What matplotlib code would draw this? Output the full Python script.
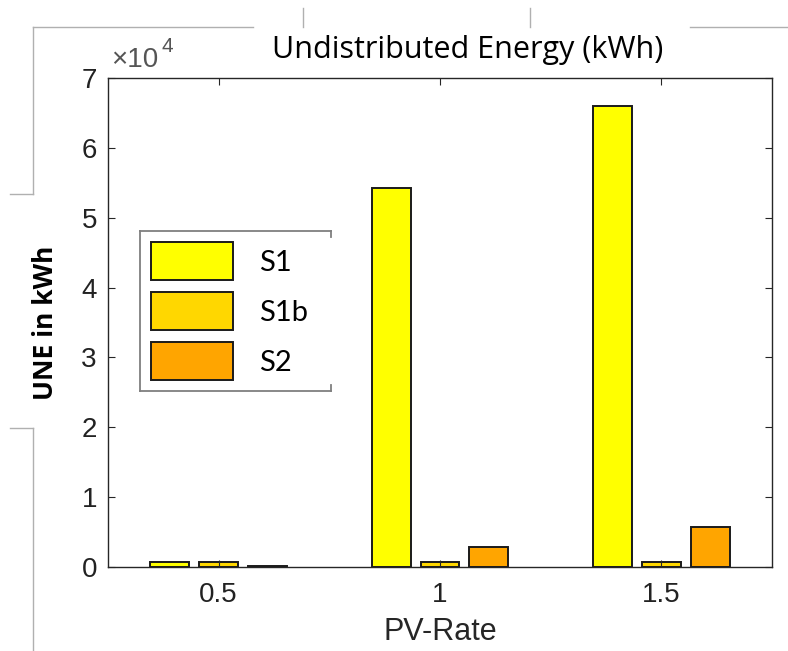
import numpy as np
import matplotlib.pyplot as plt
from matplotlib.lines import Line2D

# PV-Rate groups and UNE values (kWh)
pv_rates = [0.5, 1, 1.5]
series_names = ["S1", "S1b", "S2"]
une_s1 = [750, 54300, 66000]
une_s1b = [750, 700, 700]
une_s2 = [150, 2900, 5700]
colors = ["#ffff00", "#ffd700", "#ffa500"]

W, H = 788, 651

def fx(px):
    return px / W

def fy(py):
    return 1 - py / H

fig = plt.figure(figsize=(W/100, H/100), dpi=100)
ax = fig.add_axes([fx(108), fy(567), fx(772-108), (567-78)/H])

x = np.array(pv_rates)
width = 0.088
offsets = [-0.11, 0, 0.11]
for vals, name, col, off in zip([une_s1, une_s1b, une_s2], series_names, colors, offsets):
    ax.bar(x + off, vals, width, color=col, edgecolor="#1a1a1a", linewidth=1.4, label=name)

ax.set_xlim(0.25, 1.75)
ax.set_ylim(0, 70000)
ax.set_xticks(pv_rates)
ax.set_xticklabels(["0.5", "1", "1.5"])
ax.set_yticks(np.arange(0, 70001, 10000))
ax.set_yticklabels([str(i) for i in range(8)])

for lab in ax.get_xticklabels() + ax.get_yticklabels():
    lab.set_fontfamily("Liberation Sans")
    lab.set_fontsize(20)
    lab.set_color("#222222")
ax.tick_params(direction="in", length=5, width=0.8, color="#262626",
               top=True, right=True)
ax.tick_params(axis="y", pad=8)
ax.tick_params(axis="x", pad=11)
for sp in ax.spines.values():
    sp.set_color("#262626")
    sp.set_linewidth(1.0)

ax.set_xlabel("PV-Rate", fontfamily="Liberation Sans", fontsize=22, color="#262626", labelpad=6)
ax.set_ylabel("UNE in kWh", fontfamily="Open Sans", fontweight="bold", fontsize=19,
              color="black", labelpad=16)

# exponent marker, MATLAB style
fig.text(fx(111), fy(67), "\u00d710", fontsize=20, color="#555555",
         fontfamily="Liberation Sans", ha="left", va="baseline")
fig.text(fx(162), fy(52), "4", fontsize=15, color="#555555",
         fontfamily="Liberation Sans", ha="left", va="baseline")

fig.text(fx(468), fy(50), "Undistributed Energy (kWh)", fontfamily="Open Sans",
         fontsize=22, color="black", ha="center", va="center")

leg = ax.legend(loc="upper left", bbox_to_anchor=(fx(140), fy(231)),
                bbox_transform=fig.transFigure, fancybox=False, framealpha=1,
                edgecolor="none", prop=dict(family="Lato", size=21),
                handlelength=2.81, handleheight=1.63, labelspacing=0.41,
                handletextpad=0.89, borderpad=0.38, borderaxespad=0)

# legend border: the right side only shows short stubs at the corners
fig.canvas.draw()
bb = leg.get_window_extent().transformed(fig.transFigure.inverted())
x0, x1 = bb.x0, bb.x1 + fx(12)
y0, y1 = bb.y0, bb.y1
stub = 6 / H
leg_edges = [
    ([x0, x1], [y1, y1]),
    ([x0, x0], [y0, y1]),
    ([x0, x1], [y0, y0]),
    ([x1, x1], [y1, y1 - stub]),
    ([x1, x1], [y0, y0 + stub]),
]
for xs, ys in leg_edges:
    fig.add_artist(Line2D(xs, ys, color="#7f7f7f", linewidth=1.3, transform=fig.transFigure))

# grey screenshot frame lines around the plot
grey = "#b0b0b0"
segments = [
    ((33, 253), (27, 27)),
    ((690, 788), (27, 27)),
    ((303, 303), (8, 27)),
    ((530, 530), (8, 27)),
    ((33, 33), (27, 194)),
    ((10, 33), (194, 194)),
    ((10, 33), (428, 428)),
    ((33, 33), (428, 651)),
]
for xs, ys in segments:
    fig.add_artist(Line2D([fx(xs[0]), fx(xs[1])], [fy(ys[0]), fy(ys[1])],
                          color=grey, linewidth=1.0, transform=fig.transFigure))

fig.savefig("out.png", dpi=100)
